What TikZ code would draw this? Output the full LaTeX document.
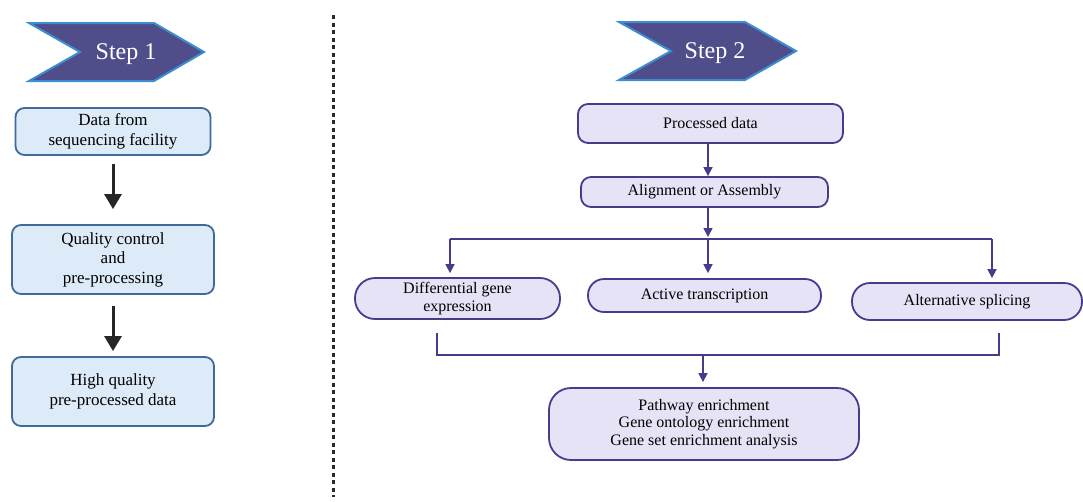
\documentclass[tikz,border=0pt]{standalone}
\usepackage{fontspec}
\setmainfont{Liberation Serif}
\usetikzlibrary{arrows.meta}
\definecolor{chevfill}{HTML}{4F4E8A}
\definecolor{chevline}{HTML}{3C8DD1}
\definecolor{lbfill}{HTML}{DDEAF8}
\definecolor{lbline}{HTML}{3F6B98}
\definecolor{rbfill}{HTML}{E6E3F6}
\definecolor{rbline}{HTML}{4A3A8E}
\definecolor{dashc}{HTML}{2A2A2A}
\tikzset{
  chev/.style={fill=chevfill,draw=chevline,line width=2pt,line join=miter},
  chevtext/.style={text=white,font=\fontsize{24}{26}\selectfont},
  lbox/.style={draw=lbline,fill=lbfill,line width=1.8pt,rounded corners=9pt,align=center,
    font=\fontsize{17}{19.5}\selectfont,inner sep=0pt},
  rbox/.style={draw=rbline,fill=rbfill,line width=1.8pt,align=center,
    font=\fontsize{16}{17.5}\selectfont,inner sep=0pt},
  bigarrow/.style={line width=3pt,color=black!85,-{Triangle[width=17pt,length=15pt]}},
  rarr/.style={line width=1.6pt,color=rbline,-{Triangle[width=9pt,length=9pt]}},
  rline/.style={line width=1.6pt,color=rbline},
  sep/.style={line width=3pt,color=dashc,dash pattern=on 4pt off 3.5pt}
}
\begin{document}
\begin{tikzpicture}[x=1pt,y=-1pt]
\useasboundingbox (0,0) rectangle (1083,501);
% separator
\coordinate (st) at (333,15);
\coordinate (sb) at (333,497);
\draw[sep] (st) -- (sb);
% chevrons
\draw[chev] (29,23) -- (154,23) -- (204,52) -- (154,81) -- (29,81) -- (80,52) -- cycle;
\node[chevtext] (s1) at (126,54) {Step 1};
\draw[chev] (619,22) -- (745,22) -- (796,51) -- (745,80) -- (619,80) -- (671,51) -- cycle;
\node[chevtext] (s2) at (715,53) {Step 2};
% left column
\node[lbox,minimum width=195pt,minimum height=47pt] (b1) at (113,131.5) {Data from\\sequencing facility};
\node[lbox,minimum width=202pt,minimum height=69pt] (b2) at (113,259.5) {Quality control\\and\\pre-processing};
\node[lbox,minimum width=202pt,minimum height=69pt] (b3) at (113,391.5) {High quality\\pre-processed data};
\draw[bigarrow,shorten <=8pt,shorten >=15pt] (b1.south) -- (b2.north);
\draw[bigarrow,shorten <=11pt,shorten >=5pt] (b2.south) -- (b3.north);
% right column
\node[rbox,rounded corners=10pt,minimum width=265pt,minimum height=39pt] (pd) at (710.5,123.5) {Processed data};
\node[rbox,rounded corners=10pt,minimum width=247pt,minimum height=30pt] (aa) at (704.5,192) {Alignment or Assembly};
\node[rbox,rounded corners=20pt,minimum width=205pt,minimum height=41pt] (deg) at (457.5,298.5) {Differential gene\\expression};
\node[rbox,rounded corners=16pt,minimum width=233pt,minimum height=33pt] (act) at (704.5,295.5) {Active transcription};
\node[rbox,rounded corners=18pt,minimum width=230pt,minimum height=37pt] (alt) at (967,301.5) {Alternative splicing};
\node[rbox,rounded corners=22pt,minimum width=310pt,minimum height=72pt] (pe) at (704,424) {Pathway enrichment\\Gene ontology enrichment\\Gene set enrichment analysis};
\coordinate (j) at (708,239);
\coordinate (jl) at (450,239);
\coordinate (jr) at (992,239);
\draw[rarr] (pd.south -| j) -- (aa.north -| j);
\draw[rarr,shorten >=2pt] (aa.south -| j) -- (j);
\draw[rline] (jl) -- (jr);
\draw[rarr,shorten >=4pt] (jl) -- (jl |- deg.north);
\draw[rarr,shorten >=5pt] (j) -- (j |- act.north);
\draw[rarr,shorten >=4pt] (jr) -- (jr |- alt.north);
\coordinate (bl0) at (437,333);
\coordinate (bl) at (437,355);
\coordinate (br) at (999,355);
\coordinate (br0) at (999,333);
\coordinate (bm) at (703,355);
\draw[rline] (bl0) -- (bl) -- (br) -- (br0);
\draw[rarr,shorten >=5pt] (bm) -- (bm |- pe.north);
\end{tikzpicture}
\end{document}
